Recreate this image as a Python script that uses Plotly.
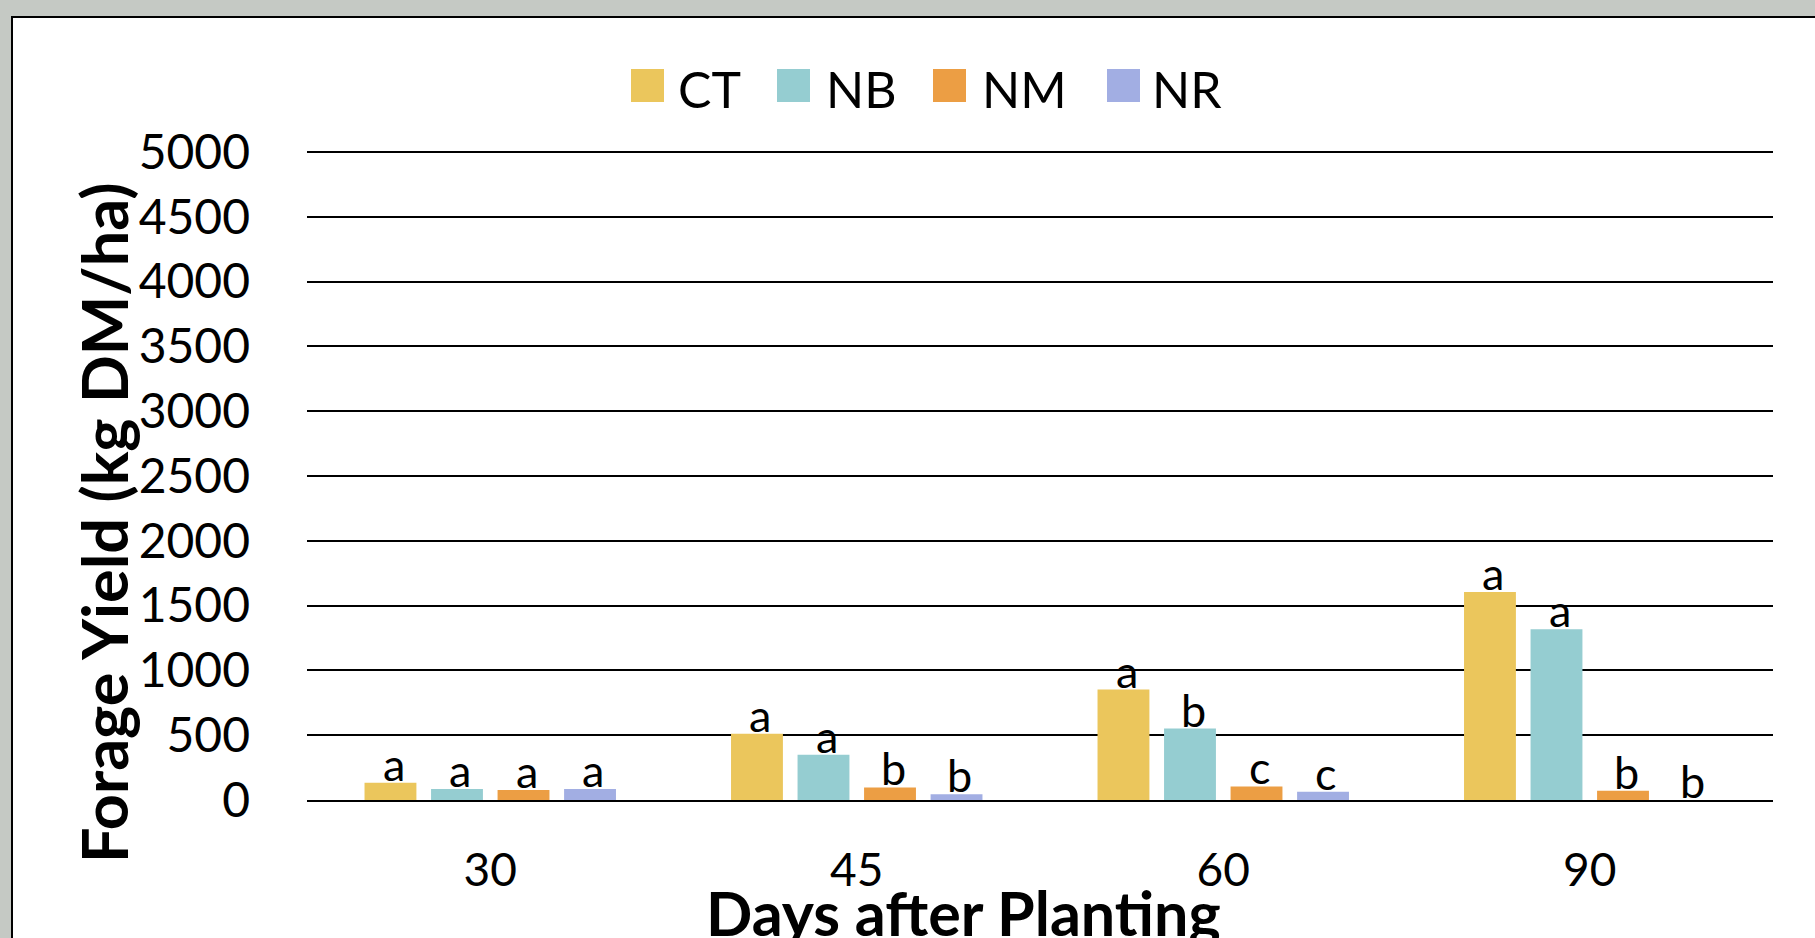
import plotly.graph_objects as go

# ---- data ----
days = ["30", "45", "60", "90"]
series_names = ["CT", "NB", "NM", "NR"]
ct_yield = [133, 512, 852, 1605]
nb_yield = [85, 350, 551, 1318]
nm_yield = [77, 97, 105, 72]
nr_yield = [85, 45, 63, 0]
ct_letters = ["a", "a", "a", "a"]
nb_letters = ["a", "a", "b", "a"]
nm_letters = ["a", "b", "c", "b"]
nr_letters = ["a", "b", "c", "b"]
y_ticks = [0, 500, 1000, 1500, 2000, 2500, 3000, 3500, 4000, 4500, 5000]

values = [ct_yield, nb_yield, nm_yield, nr_yield]
letters = [ct_letters, nb_letters, nm_letters, nr_letters]
colors = ["#EBC65C", "#95CDD1", "#EC9E44", "#A2AEE3"]

W, H = 1815, 938
Y_MAX = 5015
L, R, B = 307, 1773, 800
T = B - 648 * Y_MAX / 5000
PW, PH = R - L, B - T
BG = "#C5C9C4"


def px(x):
    return (x - L) / PW


def py(y):
    return (B - y) / PH


FONT = "Lato"
fig = go.Figure()
for name, vals, col in zip(series_names, values, colors):
    fig.add_trace(go.Bar(x=days, y=vals, name=name, marker_color=col,
                         marker_line_width=0, showlegend=False))

annotations = []
slot = 66.5
for i, (vals, labs) in enumerate(zip(values, letters)):
    off = (i - 1.5) * slot + 3
    for j, (v, lab) in enumerate(zip(vals, labs)):
        annotations.append(dict(x=j, y=v, xref="x", yref="y", text=lab,
                                showarrow=False, xshift=off, yshift=-10,
                                yanchor="bottom", xanchor="center",
                                font=dict(family=FONT, size=45, color="black")))

# manual legend
sw_x = [631, 777, 933, 1107]
tx_x = [676, 824, 980, 1150]
for name, col, sx, tx in zip(series_names, colors, sw_x, tx_x):
    fig.add_shape(type="rect", xref="paper", yref="paper",
                  x0=px(sx), x1=px(sx + 33), y0=py(102), y1=py(69),
                  fillcolor=col, line_width=0)
    annotations.append(dict(x=px(tx), y=py(89), xref="paper", yref="paper",
                             text=name, showarrow=False, xanchor="left",
                             yanchor="middle",
                             font=dict(family=FONT, size=50, color="black")))

# axis titles
annotations.append(dict(x=px(104), y=py(523), xref="paper", yref="paper",
                        text="<b>Forage Yield (kg DM/ha)</b>", textangle=-90,
                        showarrow=False, xanchor="center", yanchor="middle",
                        font=dict(family=FONT, size=63, color="black")))
annotations.append(dict(x=px(963), y=py(874), xref="paper", yref="paper",
                        text="<b>Days after Planting</b>",
                        showarrow=False, xanchor="center", yanchor="top",
                        font=dict(family=FONT, size=61, color="black")))

# white card with border
fig.add_shape(type="rect", xref="paper", yref="paper", layer="below",
              x0=px(12), x1=px(1830), y0=py(950), y1=py(17),
              fillcolor="white", line=dict(color="black", width=2))

fig.update_layout(
    width=W, height=H,
    margin=dict(l=L, r=W - R, t=T, b=H - B, pad=0),
    paper_bgcolor=BG,
    plot_bgcolor="rgba(0,0,0,0)",
    barmode="group", bargap=0.274, bargroupgap=0.22,
    annotations=annotations,
    font=dict(family=FONT, color="black"),
    xaxis=dict(type="category", range=[-0.5, 3.5], showgrid=False,
               showline=True, linecolor="black", linewidth=2,
               ticks="", tickfont=dict(family=FONT, size=46, color="black"),
               ticklabelstandoff=29),
    yaxis=dict(range=[0, Y_MAX], tickvals=y_ticks, showgrid=True,
               gridcolor="black", gridwidth=2, zeroline=False,
               showline=False, ticks="",
               tickfont=dict(family=FONT, size=48, color="black"),
               ticklabelstandoff=56),
)

fig.write_html(
    "out.html",
    config={"displayModeBar": False},
    post_script="document.body.style.margin='0px';"
                "document.body.style.background='" + BG + "';",
)
